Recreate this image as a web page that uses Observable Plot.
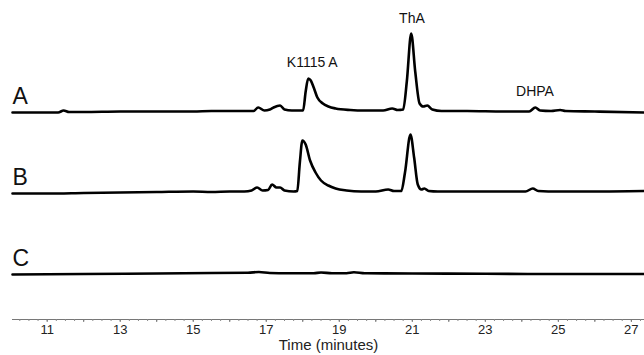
<!DOCTYPE html>
<html><head><meta charset="utf-8">
<script src="https://cdn.jsdelivr.net/npm/d3@7"></script>
<script src="https://cdn.jsdelivr.net/npm/@observablehq/plot@0.6"></script>
<style>body{margin:0;background:#fff;} svg{font-family:"Liberation Sans",Arial,sans-serif;}</style>
</head><body><div id="chart"></div>
<script>
// Trace names (samples)
const traceNames = ["A", "B", "C"];

// Trace A: time (min) and detector signal (arbitrary units above baseline)
const timeA   = [10.05, 10.5, 11.0, 11.3, 11.45, 11.6, 12.0, 13.0, 14.0, 15.0, 15.5, 16.0, 16.5, 16.65, 16.78, 16.95, 17.1, 17.2, 17.38, 17.5, 17.7, 18.01, 18.08, 18.15, 18.22, 18.3, 18.4, 18.55, 18.7, 18.9, 19.3, 19.7, 20.2, 20.45, 20.6, 20.75, 20.85, 20.97, 21.08, 21.2, 21.3, 21.41, 21.55, 21.8, 22.5, 23.5, 24.2, 24.37, 24.5, 24.8, 25.05, 25.2, 26.0, 27.36];
const signalA = [-1, -1, -1, -1, 1, -0.5, -0.5, 0, 0, 0, 0.5, 0.5, 0.5, 0.5, 4, 1, 2, 4, 6, 2, 1, 1, 20, 33, 31, 24, 14, 8, 5, 3, 1.5, 1, 1, 3, 1.5, 2, 30, 78, 40, 8, 5, 6, 2, 0.5, 0.5, 0, 0, 4, 1, 0.5, 1.5, 0.5, 0, -1];

// Trace B
const timeB   = [10.05, 11.0, 12.0, 13.0, 14.0, 15.0, 15.5, 16.0, 16.4, 16.6, 16.75, 16.9, 17.05, 17.16, 17.28, 17.38, 17.5, 17.75, 17.85, 17.92, 17.99, 18.08, 18.2, 18.35, 18.5, 18.7, 18.9, 19.2, 19.6, 20.0, 20.34, 20.5, 20.7, 20.8, 20.95, 21.05, 21.15, 21.25, 21.33, 21.45, 21.7, 22.5, 23.5, 24.1, 24.3, 24.45, 25.0, 26.0, 27.36];
const signalB = [-1, -1, -0.5, 0, 0.5, 1, 0.5, 1, 1, 2, 5, 2, 2.5, 8, 5, 5, 2, 1, 1.5, 30, 52, 48, 32, 20, 12, 7, 4, 2, 1, 1, 3, 1.5, 1.5, 20, 58, 35, 8, 3, 4, 1.5, 1, 1, 1, 1, 4, 1.5, 1, 1, 1.5];

// Trace C
const timeC   = [10.05, 12.0, 14.0, 15.5, 16.5, 16.8, 17.1, 17.6, 18.3, 18.5, 18.8, 19.2, 19.4, 19.7, 21.0, 23.0, 25.0, 27.36];
const signalC = [-1, -0.5, 0, 0.5, 0.8, 1.5, 0.5, 0.3, 0.3, 1, 0.2, 0.3, 1.2, 0.2, 0, -0.3, -0.5, -0.5];

// Axis ticks
const tickLabels = [11, 13, 15, 17, 19, 21, 23, 25, 27];
const majorTicks = [11, 12, 13, 14, 15, 16, 17, 18, 19, 20, 21, 22, 23, 24, 25, 26, 27];
const minorTicks = d3.range(10.25, 27.3, 0.25);
const axisTitle = "Time (minutes)";

// Peak annotations (on trace A)
const peakNames  = ["K1115 A", "ThA", "DHPA"];
const peakTimes  = [18.26, 20.99, 24.36];
const peakLevels = [49, 93, 20];

const rows = [
  ...timeA.map((t, i) => ({trace: "A", time: t, signal: signalA[i]})),
  ...timeB.map((t, i) => ({trace: "B", time: t, signal: signalB[i]})),
  ...timeC.map((t, i) => ({trace: "C", time: t, signal: signalC[i]}))
];
const peaks = peakNames.map((n, i) => ({trace: "A", name: n, time: peakTimes[i], signal: peakLevels[i]}));

const chart = Plot.plot({
  width: 644,
  height: 355,
  marginLeft: 12,
  marginRight: 0,
  marginTop: 76,
  marginBottom: 36,
  x: {domain: [10.05, 27.36]},
  y: {domain: [-46, 35], axis: null},
  fy: {domain: traceNames, padding: 0, axis: null},
  marks: [
    Plot.ruleY([-46], {facetAnchor: "bottom", stroke: "#777", strokeWidth: 1.2}),
    Plot.axisX({ticks: minorTicks, tickSize: 2, tickFormat: () => "", stroke: "#888", label: null}),
    Plot.axisX({ticks: majorTicks, tickSize: 3, tickFormat: () => "", stroke: "#777", label: null}),
    Plot.axisX({ticks: tickLabels, tickSize: 0, tickPadding: 5, fontSize: 13, fill: "#222", label: null}),
    Plot.text([axisTitle], {facetAnchor: "bottom", frameAnchor: "bottom", text: d => d, dy: 30, fontSize: 15, fill: "#222"}),
    Plot.line(rows, {x: "time", y: "signal", fy: "trace", curve: "monotone-x", stroke: "#000", strokeWidth: 2.6}),
    Plot.text(traceNames, {fy: d => d, x: 10.05, y: 14.5, text: d => d, textAnchor: "start", fontSize: 23, fill: "#111"}),
    Plot.text(peaks, {fy: "trace", x: "time", y: "signal", text: "name", fontSize: 14, fill: "#111"})
  ]
});
document.getElementById("chart").appendChild(chart);
</script>
</body></html>
